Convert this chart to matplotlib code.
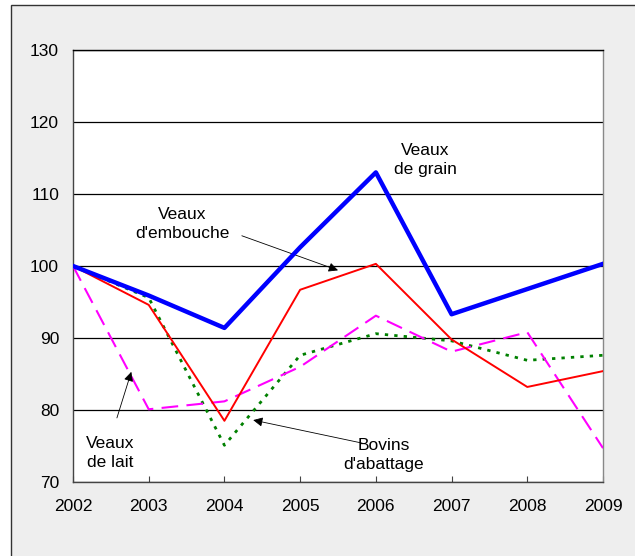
import matplotlib.pyplot as plt
from matplotlib.patches import Rectangle

plt.rcParams["font.family"] = ["Liberation Sans", "DejaVu Sans"]

# -------------------------------------------------------------------
# DONNEES
# -------------------------------------------------------------------
annees = [2002, 2003, 2004, 2005, 2006, 2007, 2008, 2009]
veaux_grain = [100, 95.9, 91.4, 102.6, 113.0, 93.3, 96.8, 100.3]
veaux_embouche = [100, 94.6, 78.5, 96.7, 100.3, 89.8, 83.2, 85.4]
bovins_abattage = [100, 95.6, 75.1, 87.6, 90.6, 89.6, 86.9, 87.6]
veaux_lait = [100, 80.1, 81.2, 86.0, 93.1, 88.1, 90.8, 74.7]
y_ticks = [70, 80, 90, 100, 110, 120, 130]

fig = plt.figure(figsize=(6.35, 5.56), dpi=100)
fig.patch.set_facecolor("white")

# cadre gris autour du graphique
cadre = Rectangle((11 / 635, -0.01), 1.0, 1 - 5 / 556 + 0.01,
                  transform=fig.transFigure, facecolor="#eeeeee",
                  edgecolor="#333333", linewidth=1.0, zorder=-1)
fig.patches.append(cadre)

ax = fig.add_axes([73 / 635, 1 - 482 / 556, 530 / 635, 432 / 556])
ax.set_zorder(1)
ax.set_facecolor("white")

ax.plot(annees, veaux_grain, color="#0000ff", linewidth=3.2, zorder=5)
ax.plot(annees, veaux_embouche, color="#ff0000", linewidth=1.4, zorder=4)
ax.plot(annees, bovins_abattage, color="#008000", linewidth=2.0,
        linestyle=(0, (1.2, 2.2)), zorder=3)
ax.plot(annees, veaux_lait, color="#ff00ff", linewidth=1.5,
        linestyle=(0, (8, 4)), zorder=3)

ax.set_xlim(2002, 2009)
ax.set_ylim(70, 130)
ax.set_xticks(annees)
ax.set_yticks(y_ticks)
ax.grid(True, axis="y", color="black", linewidth=0.9)
ax.set_axisbelow(True)

for side in ["left", "bottom", "top", "right"]:
    ax.spines[side].set_color("#444444")
    ax.spines[side].set_linewidth(1.0)
ax.spines["top"].set_color("black")
ax.spines["right"].set_color("#888888")

ax.tick_params(axis="x", direction="in", length=4, color="#444444",
               labelsize=12.5, pad=12)
ax.tick_params(axis="y", length=0, labelsize=12.5, pad=10)

fs = 12.5
arrow = dict(arrowstyle="-|>", color="black", lw=0.6, mutation_scale=14,
             shrinkA=0, shrinkB=0)

ax.text(2006.65, 114.7, "Veaux\nde grain", ha="center", va="center",
        fontsize=fs, linespacing=1.35)

ax.text(2003.44, 105.8, "Veaux\nd'embouche", ha="center", va="center",
        fontsize=fs, linespacing=1.35)
ax.annotate("", xy=(2005.5, 99.4), xytext=(2004.23, 104.2), arrowprops=arrow)

ax.text(2002.49, 74.0, "Veaux\nde lait", ha="center", va="center",
        fontsize=fs, linespacing=1.35)
ax.annotate("", xy=(2002.77, 85.3), xytext=(2002.58, 78.9), arrowprops=arrow)

ax.text(2006.1, 73.75, "Bovins\nd'abattage", ha="center", va="center",
        fontsize=fs, linespacing=1.35, zorder=6)
ax.annotate("", xy=(2004.38, 78.6), xytext=(2005.82, 75.4), arrowprops=arrow)

fig.savefig("out.png", dpi=100, facecolor=fig.get_facecolor())
